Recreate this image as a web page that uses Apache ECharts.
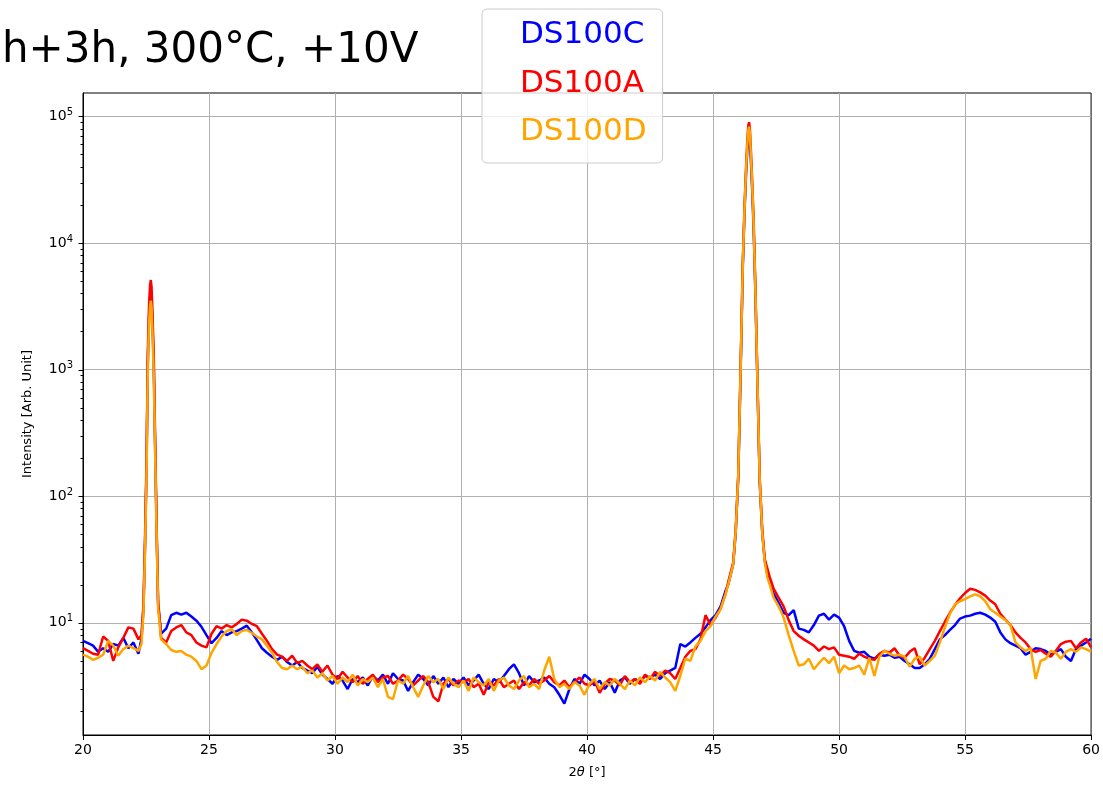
<!DOCTYPE html>
<html>
<head>
<meta charset="utf-8">
<script src="https://cdn.jsdelivr.net/npm/echarts@6/dist/echarts.min.js"></script>
<style>html,body{margin:0;padding:0;background:#fff}#c{width:1103px;height:787px}</style>
</head>
<body>
<div id="c"></div>
<script>
// 2θ positions (degrees)
const angle = [
  20.0,20.2,20.4,20.6,20.8,21.0,21.2,21.4,21.6,21.8,22.0,22.2,
  22.32,22.4,22.46,22.52,22.57,22.62,22.66,22.69,22.72,22.76,22.81,22.86,22.92,22.98,
  23.1,23.3,23.5,23.7,23.9,24.1,24.3,24.5,24.7,24.9,
  25.1,25.3,25.5,25.7,25.9,26.1,26.3,26.5,26.7,26.9,
  27.1,27.3,27.5,27.7,27.9,28.1,28.3,28.5,28.7,28.9,
  29.1,29.3,29.5,29.7,29.9,30.1,30.3,30.5,30.7,30.9,
  31.1,31.3,31.5,31.7,31.9,32.1,32.3,32.5,32.7,32.9,
  33.1,33.3,33.5,33.7,33.9,34.1,34.3,34.5,34.7,34.9,
  35.1,35.3,35.5,35.7,35.9,36.1,36.3,36.5,36.7,36.9,
  37.1,37.3,37.5,37.7,37.9,38.1,38.3,38.5,38.7,38.9,
  39.1,39.3,39.5,39.7,39.9,40.1,40.3,40.5,40.7,40.9,
  41.1,41.3,41.5,41.7,41.9,42.1,42.3,42.5,42.7,42.9,
  43.1,43.3,43.5,43.7,43.9,44.1,44.3,44.5,44.7,44.9,
  45.1,45.3,45.5,
  45.6,45.7,45.8,45.9,46.0,46.1,46.18,46.25,46.31,46.36,46.4,46.43,46.46,46.5,46.55,46.61,46.68,46.76,46.85,46.95,47.05,47.15,47.25,
  47.4,47.6,47.8,48.0,48.2,48.4,48.6,48.8,49.0,49.2,
  49.4,49.6,49.8,50.0,50.2,50.4,50.6,50.8,51.0,51.2,
  51.4,51.6,51.8,52.0,52.2,52.4,52.6,52.8,53.0,53.2,
  53.4,53.6,53.8,54.0,54.2,54.4,54.6,54.8,55.0,55.2,
  55.4,55.6,55.8,56.0,56.2,56.4,56.6,56.8,57.0,57.2,
  57.4,57.6,57.8,58.0,58.2,58.4,58.6,58.8,59.0,59.2,
  59.4,59.6,59.8,60.0
];

// DS100C (blue)
const ds100C = [
  7.2,6.9,6.6,5.9,6.3,5.9,6.8,6.6,7.6,6.3,7.0,5.7,
  7.5,13,40,160,1100,2600,3700,4100,3600,2200,1000,260,55,14,
  8.2,9.0,11.5,12.0,11.6,12.0,11.2,10.4,9.3,8.0,
  6.9,7.6,8.6,8.0,8.4,8.6,9.0,9.5,8.4,7.3,
  6.3,5.8,5.4,5.1,5.4,4.9,4.6,4.9,4.4,4.2,
  4.0,4.5,3.9,3.6,3.3,3.8,3.5,3.0,3.6,3.4,
  3.7,3.2,3.8,3.5,3.9,3.3,4.0,3.6,3.5,2.9,
  3.4,3.9,3.6,3.2,3.8,3.3,3.7,3.1,3.6,3.3,
  3.7,3.2,3.5,3.9,3.3,3.0,3.6,3.4,3.8,4.3,
  4.7,4.0,3.2,3.8,3.4,3.5,3.7,3.3,3.1,2.7,
  2.3,3.0,3.6,3.3,3.9,3.6,3.2,3.5,3.0,3.4,
  2.8,3.5,3.7,3.3,3.6,3.4,3.8,3.7,3.9,3.6,
  4.0,4.2,4.4,6.8,6.5,7.0,7.6,8.2,9.2,10.5,
  11.5,13.5,18,
  20,24,29,52,140,1100,6500,18000,35000,55000,68000,70000,62000,45000,27000,13000,4000,800,130,52,31,25,21,
  17,14.4,12.0,11.5,12.6,9.0,8.8,8.4,9.6,11.4,
  11.8,10.6,11.6,11.0,9.4,7.2,6.0,5.8,5.9,5.4,
  5.2,5.6,5.5,5.6,5.3,5.4,5.0,4.7,4.4,4.4,
  4.7,5.2,6.2,7.4,8.0,8.8,9.6,10.8,11.2,11.4,
  11.8,12.0,11.6,11.0,10.2,8.4,7.4,6.9,6.6,6.3,
  5.6,5.9,6.3,6.2,6.0,5.6,5.9,6.2,5.4,5.0,
  6.2,6.6,7.0,7.5
];

// DS100A (red)
const ds100A = [
  6.3,6.0,5.7,5.6,7.8,7.2,5.0,6.4,7.6,9.2,9.0,7.4,
  8,14,45,190,1300,3200,4600,5100,4500,2700,1200,300,60,15,
  7.6,7.0,8.6,9.2,9.6,8.4,8.0,7.0,6.6,6.4,
  8.2,9.4,9.0,9.6,9.2,9.8,10.6,10.4,9.8,9.4,
  8.2,7.2,6.2,5.6,5.4,5.0,5.5,4.8,5.0,4.6,
  4.3,4.7,4.1,4.6,3.9,3.6,4.1,3.7,3.4,3.8,
  3.3,3.6,3.9,3.4,3.7,3.8,3.3,3.5,3.9,3.6,
  3.2,3.5,3.8,3.4,2.6,2.4,3.3,3.6,3.2,3.5,
  3.4,3.6,3.1,3.3,2.7,3.4,3.2,3.6,3.1,3.3,
  3.5,3.0,3.4,3.2,3.6,3.3,3.5,3.8,3.4,3.2,
  3.5,3.1,3.4,3.7,3.3,3.2,3.5,2.8,3.3,3.6,
  3.5,3.2,3.8,3.4,3.6,3.3,3.9,3.6,4.1,3.8,
  4.2,4.0,3.6,4.4,5.4,6.0,6.2,7.4,11.5,9.6,
  11.0,13.0,17,
  21,25,30,55,150,1200,7000,20000,40000,65000,85000,90000,80000,55000,32000,15000,4500,850,140,55,32,27,23,
  18.6,15.8,13.5,10.5,8.6,7.9,7.4,7.0,6.6,6.0,
  6.5,6.2,6.4,5.6,5.5,5.4,5.2,5.7,5.4,5.2,
  5.1,5.7,6.0,5.8,6.3,5.5,5.3,5.9,6.3,4.7,
  5.3,6.2,7.2,8.6,10.2,12.0,13.8,15.6,17.2,18.6,
  18.2,17.4,16.4,15.0,14.0,11.8,10.6,9.6,8.4,7.6,
  7.0,6.2,5.9,6.1,5.7,5.4,6.0,6.8,7.1,7.2,
  6.3,7.0,7.5,6.4
];

// DS100D (orange)
const ds100D = [
  5.6,5.4,5.1,5.3,5.6,7.2,6.6,5.5,6.2,6.6,6.3,6.0,
  6.8,12,36,140,950,2300,3200,3500,3100,1900,850,230,50,13,
  7.4,6.8,6.1,5.9,6.0,5.6,5.4,5.0,4.3,4.6,
  5.8,6.8,7.8,8.6,8.9,8.0,8.6,8.8,8.3,7.8,
  7.4,6.6,5.8,4.9,4.4,4.3,4.6,4.3,4.5,4.0,
  4.2,3.7,4.0,3.5,3.8,3.3,3.7,3.4,3.9,3.2,
  3.6,3.4,3.7,3.1,3.6,2.6,2.5,3.5,3.3,3.8,
  3.1,2.6,3.2,3.8,3.4,3.6,3.0,3.7,3.3,3.1,
  3.5,2.9,3.7,3.4,3.2,3.6,2.9,3.5,3.7,3.2,
  3.0,3.5,3.8,3.1,3.3,3.0,4.2,5.4,3.6,3.1,
  3.3,3.0,3.4,3.2,2.7,3.3,3.6,3.0,3.4,3.2,
  3.6,3.3,3.0,3.5,3.2,3.7,3.4,3.8,3.5,4.1,
  3.7,3.4,2.9,3.8,5.2,5.0,6.5,7.2,8.6,9.4,
  11.2,12.8,17,
  20,24,29,53,145,1150,6800,19000,38000,60000,78000,83000,74000,50000,30000,14000,4200,820,135,52,30,23,20,
  15.8,13.5,11.0,8.0,6.0,4.6,4.7,5.2,4.3,4.8,
  5.3,4.8,5.4,4.0,4.6,4.3,4.4,4.6,3.9,5.3,
  3.8,5.4,6.0,5.7,5.5,5.6,5.4,4.5,5.2,5.4,
  4.6,5.0,5.5,7.0,9.2,11.8,14.0,14.8,15.4,16.2,
  16.8,16.2,14.8,12.8,12.0,11.2,10.5,9.6,7.0,6.4,
  6.0,6.3,3.6,5.0,5.2,6.0,5.8,5.2,5.9,6.2,
  5.9,6.4,6.2,5.9
];

const seriesNames = ['DS100C', 'DS100A', 'DS100D'];
const seriesValues = [ds100C, ds100A, ds100D];
const seriesColors = ['#0000ff', '#ff0000', '#ffa500'];
const titleText = 'h+3h, 300°C, +10V';
const xAxisTitle = '2{it|θ} [°]';
const yAxisTitle = 'Intensity [Arb. Unit]';
const yMajorTicks = [10, 100, 1000, 10000, 100000];
const yMinorTicks = [2,3,4,5,6,7,8,9, 20,30,40,50,60,70,80,90, 200,300,400,500,600,700,800,900,
  2000,3000,4000,5000,6000,7000,8000,9000, 20000,30000,40000,50000,60000,70000,80000,90000];

const chart = echarts.init(document.getElementById('c'), null, {renderer: 'canvas'});

function tickSeries(values, len) {
  return {
    type: 'custom', coordinateSystem: 'cartesian2d', silent: true, clip: false, z: 10,
    data: values.map(v => [20, v]),
    renderItem: (params, api) => {
      const p = api.coord([api.value(0), api.value(1)]);
      const y = Math.round(p[1]) + 0.5;
      const x = Math.round(p[0]) + 0.5;
      return { type: 'line', shape: { x1: x - len, y1: y, x2: x, y2: y },
               style: { stroke: '#000', lineWidth: 1 } };
    }
  };
}

const lineSeries = seriesNames.map((name, i) => ({
  name: name,
  type: 'line',
  data: angle.map((x, k) => [x, seriesValues[i][k]]),
  showSymbol: false,
  symbol: 'none',
  lineStyle: { color: seriesColors[i], width: 2.5 },
  itemStyle: { color: seriesColors[i] },
  emphasis: { disabled: true },
  z: 2 + i
}));

const option = {
  animation: false,
  backgroundColor: '#ffffff',
  grid: { left: 83, right: 10, top: 93, bottom: 52, show: true, borderColor: '#000', borderWidth: 1, backgroundColor: 'transparent' },
  xAxis: {
    type: 'value', min: 20, max: 60, interval: 5,
    axisLine: { show: true, lineStyle: { color: '#000', width: 1 } },
    axisTick: { show: true, length: 5, lineStyle: { color: '#000' } },
    axisLabel: { color: '#000', fontSize: 14, fontFamily: 'DejaVu Sans', margin: 8 },
    splitLine: { show: true, showMinLine: false, showMaxLine: false, lineStyle: { color: '#b0b0b0', width: 1 } },
    name: xAxisTitle, nameLocation: 'middle', nameGap: 31,
    nameTextStyle: { color: '#000', fontSize: 13, fontFamily: 'DejaVu Sans', rich: { it: { fontSize: 13, fontStyle: 'italic', fontFamily: 'DejaVu Sans', color: '#000' } } }
  },
  yAxis: {
    type: 'log', logBase: 10, min: 1.3, max: 153000,
    axisLine: { show: true, lineStyle: { color: '#000', width: 1 } },
    axisTick: { show: false },
    axisLabel: {
      color: '#000', fontSize: 14, fontFamily: 'DejaVu Sans', margin: 10,
      formatter: v => {
        const l = Math.log10(v);
        const e = Math.round(l);
        if (Math.abs(l - e) > 1e-6) return '';
        return '{b|10}{s|' + e + '}';
      },
      rich: {
        b: { fontSize: 14, fontFamily: 'DejaVu Sans', color: '#000', lineHeight: 18 },
        s: { fontSize: 10, fontFamily: 'DejaVu Sans', color: '#000', verticalAlign: 'top', lineHeight: 10 }
      }
    },
    splitLine: { show: true, showMinLine: false, showMaxLine: false, lineStyle: { color: '#b0b0b0', width: 1 } },
    name: yAxisTitle, nameLocation: 'middle', nameGap: 49, nameRotate: 90,
    nameTextStyle: { color: '#000', fontSize: 13, fontFamily: 'DejaVu Sans' }
  },
  legend: {
    orient: 'vertical', left: 482, top: 9,
    icon: 'none', itemWidth: 0, itemHeight: 31, itemGap: 12.5,
    padding: [8, 16, 13, 33],
    backgroundColor: 'rgba(255,255,255,0.8)', borderColor: '#cccccc', borderWidth: 1, borderRadius: 5,
    selectedMode: false,
    textStyle: { fontSize: 31, fontFamily: 'DejaVu Sans', lineHeight: 36 },
    data: seriesNames.map((n, i) => ({ name: n, textStyle: { color: seriesColors[i] } }))
  },
  graphic: [
    { type: 'text', left: 2, top: 30, z: 100,
      style: { text: titleText, font: '42px "DejaVu Sans"', fill: '#000' } }
  ],
  series: lineSeries.concat([tickSeries(yMajorTicks, 5), tickSeries(yMinorTicks, 3)])
};

chart.setOption(option);
</script>
</body>
</html>
